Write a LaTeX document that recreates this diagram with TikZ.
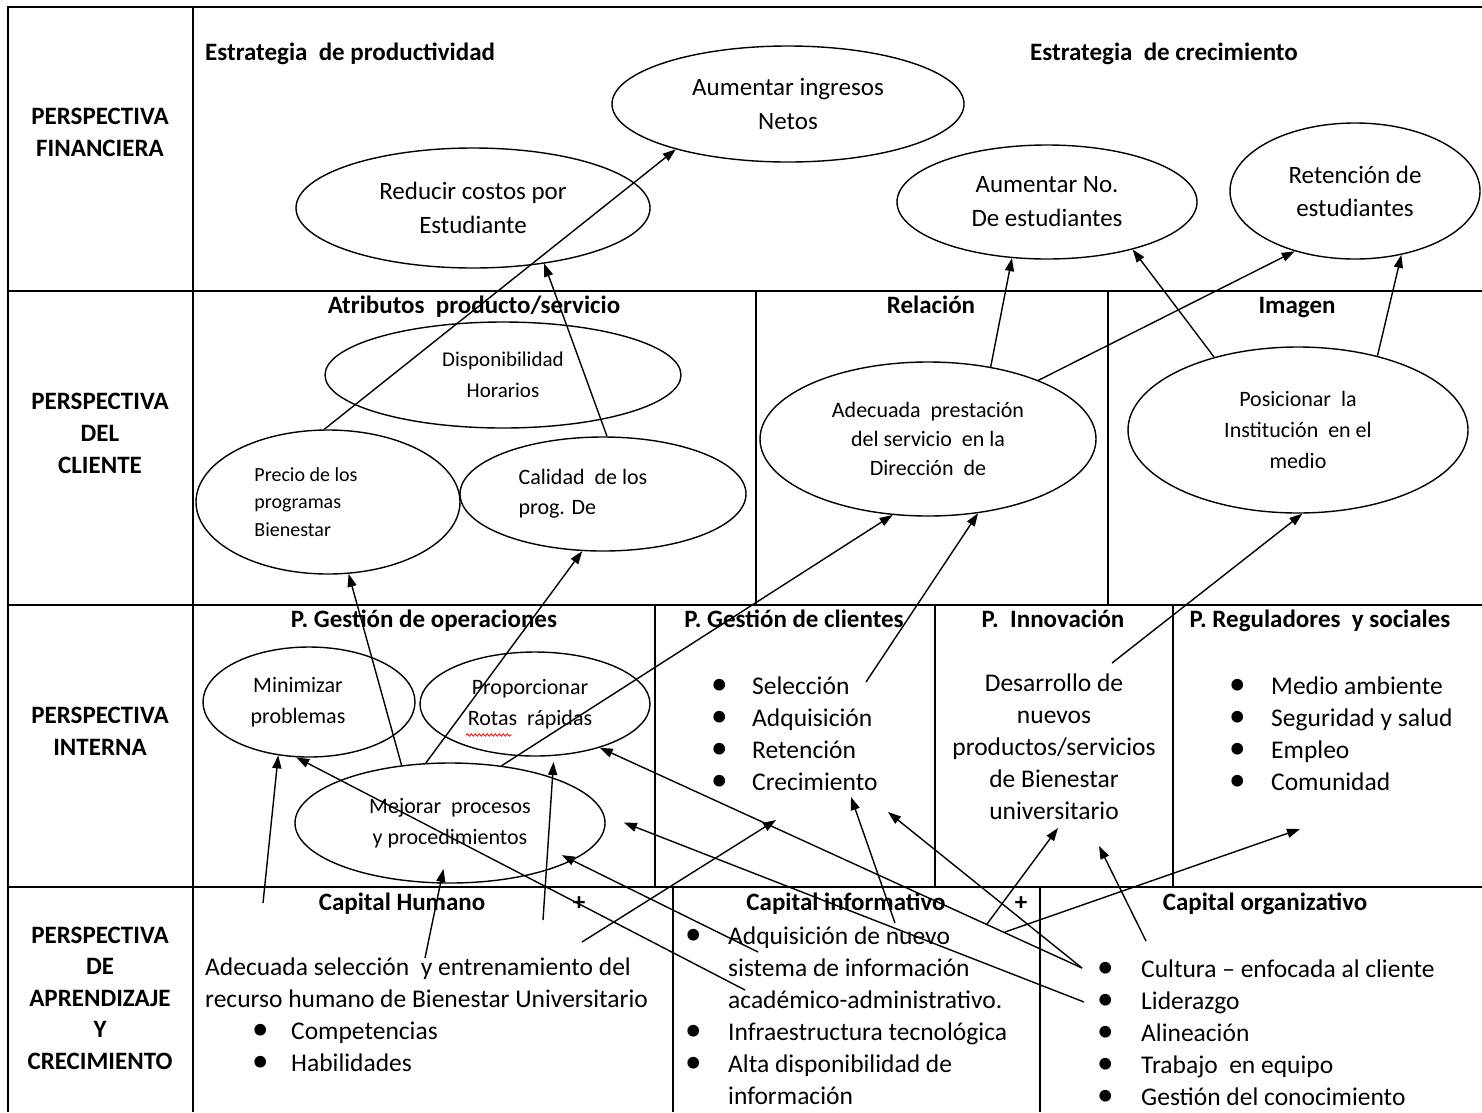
\documentclass[tikz,border=0pt]{standalone}
\usepackage{fontspec}
\setmainfont{Carlito}
\usetikzlibrary{arrows.meta,shapes.geometric,decorations.pathmorphing}

\tikzset{
  tabla/.style={line width=1.9pt},
  titulo/.style={font=\fontsize{25}{32}\selectfont\bfseries, inner sep=0pt, align=center},
  cabecera/.style={titulo, text height=18pt, text depth=6pt},
  texto/.style={font=\fontsize{25.5}{32}\selectfont, inner sep=0pt, align=left, anchor=west},
  objetivo/.style={draw, ellipse, line width=1.4pt, inner sep=0pt, align=center,
    font=\fontsize{22}{31}\selectfont},
  flecha/.style={line width=1.4pt, -{Triangle[length=13pt,width=9pt]}}
}
\newcommand{\vineta}[1][40pt]{\makebox[#1][l]{\scalebox{1.3}{\textbullet}}}

\begin{document}
\begin{tikzpicture}[x=1pt,y=-1pt]
  % Fondo
  \fill[white] (0,0) rectangle (1482,1112);
  \useasboundingbox (0,0) rectangle (1482,1112);

  % Tabla
  \draw[tabla] (1482,7) -- (8,7) -- (8,1112);
  \draw[tabla] (193,7) -- (193,1112);
  \draw[tabla] (8,291) -- (1482,291);
  \draw[tabla] (8,605) -- (1482,605);
  \draw[tabla] (8,887) -- (1482,887);
  \draw[tabla] (756,291) -- (756,605) (1108,291) -- (1108,605);
  \draw[tabla] (655,605) -- (655,887) (935,605) -- (935,887) (1173,605) -- (1173,887);
  \draw[tabla] (673,887) -- (673,1112) (1040,887) -- (1040,1112);

  % Perspectivas
  \node[titulo] (financiera) at (100,132) {PERSPECTIVA\\FINANCIERA};
  \node[titulo] (cliente) at (100,433) {PERSPECTIVA\\DEL\\CLIENTE};
  \node[titulo] (interna) at (100,731) {PERSPECTIVA\\INTERNA};
  \node[titulo, font=\fontsize{25}{31.5}\selectfont\bfseries] (aprendizaje) at (100,998)
    {PERSPECTIVA\\DE\\APRENDIZAJE\\Y\\CRECIMIENTO};

  % Encabezados de las celdas
  \node[cabecera, anchor=west] (productividad) at (205,54) {Estrategia~ de productividad};
  \node[cabecera, anchor=west] (crecimiento) at (1030,54) {Estrategia~ de crecimiento};
  \node[cabecera] (atributos) at (474,307) {Atributos~ producto/servicio};
  \node[cabecera] (relacion) at (931,307) {Relación};
  \node[cabecera] (imagen) at (1297,307) {Imagen};
  \node[cabecera] (operaciones) at (424,621) {P. Gestión de operaciones};
  \node[cabecera] (gclientes) at (794,621) {P. Gestión de clientes};
  \node[cabecera] (innovacion) at (1053,621) {P.~ Innovación};
  \node[cabecera] (reguladores) at (1320,621) {P. Reguladores~ y sociales};
  \node[cabecera] (chumano) at (402,904) {Capital Humano};
  \node[cabecera] (mas1) at (579,904) {+};
  \node[cabecera] (cinformativo) at (846,904) {Capital informativo};
  \node[cabecera] (mas2) at (1021,904) {+};
  \node[cabecera] (corganizativo) at (1265,904) {Capital organizativo};

  % Objetivos (elipses)
  \node[objetivo, minimum width=352pt, minimum height=116pt, font=\fontsize{25}{34}\selectfont]
    (ingresos) at (788,104) {Aumentar ingresos\\Netos};
  \node[objetivo, minimum width=354pt, minimum height=120pt, font=\fontsize{25}{34}\selectfont]
    (costos) at (473,208) {Reducir costos por\\Estudiante};
  \node[objetivo, minimum width=300pt, minimum height=114pt, font=\fontsize{25}{34}\selectfont]
    (numero) at (1047,202) {Aumentar No.\\De estudiantes};
  \node[objetivo, minimum width=250pt, minimum height=136pt, font=\fontsize{25}{33}\selectfont]
    (retencion) at (1355,191) {Retención de\\estudiantes};
  \node[objetivo, minimum width=356pt, minimum height=106pt, font=\fontsize{21}{31}\selectfont]
    (horarios) at (503,375) {Disponibilidad\\Horarios};
  \node[objetivo, minimum width=264pt, minimum height=144pt, align=left, font=\fontsize{20}{27.5}\selectfont]
    (precio) at (328,502) {Precio de los\hspace*{44pt}\\programas\\Bienestar};
  \node[objetivo, minimum width=286pt, minimum height=114pt, align=left, font=\fontsize{22}{30}\selectfont]
    (calidad) at (603,494) {Calidad~ de los\hspace*{40pt}\\prog. De};
  \node[objetivo, minimum width=336pt, minimum height=154pt, font=\fontsize{22}{29}\selectfont]
    (prestacion) at (928,439) {Adecuada~ prestación\\del servicio~ en la\\Dirección~ de};
  \node[objetivo, minimum width=340pt, minimum height=166pt]
    (posicionar) at (1298,430) {Posicionar~ la\\Institución~ en el\\medio};
  \node[objetivo, minimum width=212pt, minimum height=110pt] (minimizar) at (309,702)
    {Minimizar\hspace*{22pt}\\problemas\hspace*{22pt}};
  \node[objetivo, minimum width=230pt, minimum height=104pt] (rutas) at (535,704)
    {Proporcionar\hspace*{10pt}\\Rotas~ rápidas\hspace*{10pt}};
  \node[objetivo, minimum width=310pt, minimum height=120pt] (procesos) at (450,823)
    {Mejorar~ procesos\\y procedimientos};
  \draw[red, line width=0.8pt, decorate, decoration={snake, amplitude=1.2pt, segment length=4pt}]
    (466,735) -- (512,735);

  % Listas
  \node[texto] (lclientes) at (711,734) {\vineta[41pt]Selección\\\vineta[41pt]Adquisición\\\vineta[41pt]Retención\\\vineta[41pt]Crecimiento};
  \node[texto, anchor=center, align=center] (linnovacion) at (1054,747)
    {Desarrollo de\\nuevos\\productos/servicios\\de Bienestar\\universitario};
  \node[texto] (lreguladores) at (1229,734) {\vineta[42pt]Medio ambiente\\\vineta[42pt]Seguridad y salud\\\vineta[42pt]Empleo\\\vineta[42pt]Comunidad};
  \node[texto] (lhumano) at (205,1015) {Adecuada selección~ y entrenamiento del\\recurso humano de Bienestar Universitario\\
    \hspace*{47pt}\vineta[39pt]Competencias\\\hspace*{47pt}\vineta[39pt]Habilidades};
  \node[texto] (linformativo) at (685,1016) {\vineta[43pt]Adquisición de nuevo\\\hspace*{43pt}sistema de información\\
    \hspace*{43pt}académico-administrativo.\\\vineta[43pt]Infraestructura tecnológica\\
    \vineta[43pt]Alta disponibilidad de\\\hspace*{43pt}información};
  \node[texto] (lorganizativo) at (1097,1033) {\vineta[44pt]Cultura -- enfocada al cliente\\\vineta[44pt]Liderazgo\\
    \vineta[44pt]Alineación\\\vineta[44pt]Trabajo~ en equipo\\\vineta[44pt]Gestión del conocimiento};

  % Extremos libres de las flechas
  \coordinate (sel) at (866,682);
  \coordinate (des) at (1112,663);
  \coordinate (hum1) at (263,903);
  \coordinate (hum2) at (425,958);
  \coordinate (hum3) at (543,920);
  \coordinate (hum4) at (582,942);
  \coordinate (inf1) at (758,952);
  \coordinate (inf2) at (745,990);
  \coordinate (inf3) at (895,923);
  \coordinate (inf4) at (987,924);
  \coordinate (inf5) at (1005,932);
  \coordinate (org1) at (1082,968);
  \coordinate (org2) at (1084,1002);
  \coordinate (org3) at (1146,941);
  \coordinate (cli1) at (776,820);
  \coordinate (cli2) at (851,797);
  \coordinate (cli3) at (888,812);
  \coordinate (inn1) at (1058,828);
  \coordinate (inn2) at (1099,846);
  \coordinate (reg1) at (1300,829);

  % Relaciones cliente -> financiera
  \draw[flecha] (precio.93) -- (ingresos.202);
  \draw[flecha] (calidad.86) -- (costos.-38);
  \draw[flecha] (prestacion.49) -- (numero.-122);
  \draw[flecha] (prestacion.28) -- (retencion.-135);
  \draw[flecha] (posicionar.139) -- (numero.-29);
  \draw[flecha] (posicionar.43) -- (retencion.-54);

  % Relaciones interna -> cliente
  \draw[flecha] (procesos.130) -- (precio.-74);
  \draw[flecha] (procesos.112) -- (calidad.-110);
  \draw[flecha] (procesos.48) -- (prestacion.-115);
  \draw[flecha] (sel) -- (prestacion.-56);
  \draw[flecha] (des) -- (posicionar.-87);

  % Relaciones aprendizaje -> interna
  \draw[flecha] (hum1) -- (minimizar.-120);
  \draw[flecha] (inf2) -- (minimizar.-103);
  \draw[flecha, shorten >=-15pt] (hum2) -- (procesos.-99);
  \draw[flecha, shorten >=6pt] (hum3) -- (rutas.-70);
  \draw[flecha] (org1) -- (rutas.-34);
  \draw[flecha, shorten >=21pt] (org2) -- (procesos.3);
  \draw[flecha, shorten >=-12pt] (inf1) -- (procesos.-17);
  \draw[flecha] (hum4) -- (cli1);
  \draw[flecha] (inf3) -- (cli2);
  \draw[flecha] (org1) -- (cli3);
  \draw[flecha] (inf4) -- (inn1);
  \draw[flecha] (org3) -- (inn2);
  \draw[flecha] (inf5) -- (reg1);
\end{tikzpicture}
\end{document}
